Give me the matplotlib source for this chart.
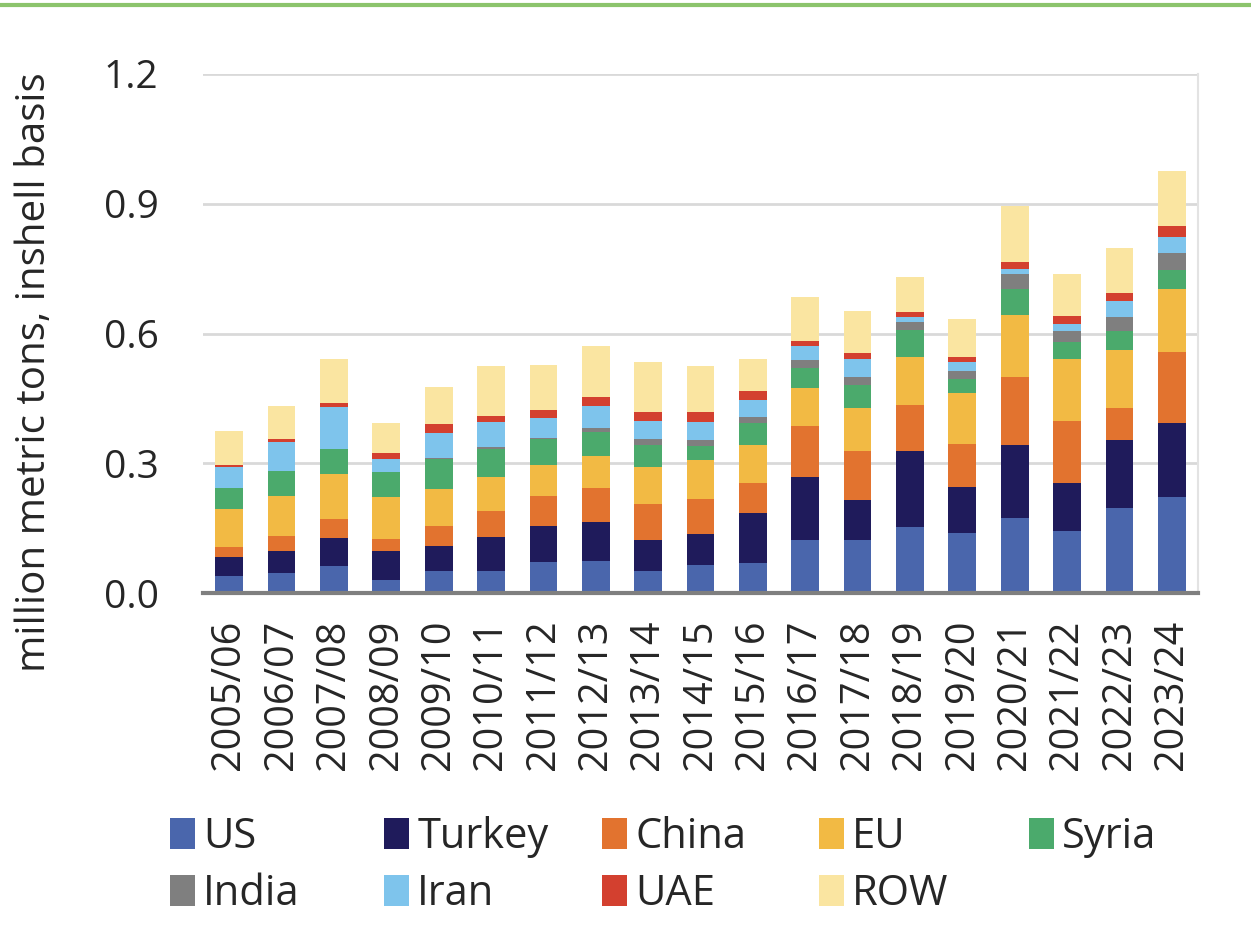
import matplotlib
matplotlib.use("Agg")
import matplotlib.pyplot as plt
from matplotlib.lines import Line2D
import numpy as np

plt.rcParams['font.family'] = ['Open Sans', 'DejaVu Sans']

years = ['2005/06', '2006/07', '2007/08', '2008/09', '2009/10', '2010/11', '2011/12',
         '2012/13', '2013/14', '2014/15', '2015/16', '2016/17', '2017/18', '2018/19',
         '2019/20', '2020/21', '2021/22', '2022/23', '2023/24']

# million metric tons, inshell basis
us     = [0.040, 0.047, 0.063, 0.029, 0.050, 0.052, 0.072, 0.073, 0.052, 0.064, 0.070, 0.123, 0.123, 0.152, 0.139, 0.173, 0.144, 0.197, 0.221]
turkey = [0.043, 0.050, 0.064, 0.068, 0.059, 0.077, 0.083, 0.091, 0.071, 0.073, 0.115, 0.146, 0.092, 0.177, 0.105, 0.170, 0.110, 0.156, 0.172]
china  = [0.023, 0.034, 0.044, 0.027, 0.046, 0.060, 0.070, 0.079, 0.083, 0.080, 0.070, 0.116, 0.113, 0.106, 0.101, 0.157, 0.144, 0.074, 0.164]
eu     = [0.088, 0.094, 0.103, 0.098, 0.085, 0.079, 0.071, 0.074, 0.086, 0.091, 0.087, 0.090, 0.100, 0.110, 0.118, 0.142, 0.142, 0.135, 0.145]
syria  = [0.049, 0.057, 0.059, 0.057, 0.070, 0.064, 0.060, 0.056, 0.050, 0.031, 0.052, 0.046, 0.053, 0.062, 0.031, 0.060, 0.040, 0.043, 0.045]
india  = [0.000, 0.000, 0.000, 0.000, 0.002, 0.006, 0.002, 0.009, 0.015, 0.014, 0.013, 0.017, 0.018, 0.019, 0.020, 0.036, 0.026, 0.034, 0.040]
iran   = [0.048, 0.068, 0.098, 0.030, 0.057, 0.057, 0.047, 0.051, 0.040, 0.043, 0.040, 0.033, 0.041, 0.011, 0.020, 0.012, 0.016, 0.037, 0.036]
uae    = [0.006, 0.006, 0.009, 0.014, 0.022, 0.015, 0.019, 0.021, 0.022, 0.022, 0.020, 0.012, 0.014, 0.012, 0.012, 0.016, 0.018, 0.017, 0.025]
row    = [0.077, 0.077, 0.102, 0.071, 0.085, 0.116, 0.103, 0.118, 0.114, 0.107, 0.075, 0.102, 0.097, 0.081, 0.087, 0.128, 0.098, 0.104, 0.127]

names = ['US', 'Turkey', 'China', 'EU', 'Syria', 'India', 'Iran', 'UAE', 'ROW']
series = [us, turkey, china, eu, syria, india, iran, uae, row]
colors = ['#4A66AC', '#1F1B5B', '#E2732F', '#F2BA44', '#4BAA6C', '#7F7F7F', '#7EC4EC', '#D3402F', '#FAE5A1']

fig = plt.figure(figsize=(12.51, 9.42), dpi=100)
ax = fig.add_axes([203/1251, 1-593/942, 995/1251, 519/942])

x = np.arange(len(years))
bottom = np.zeros(len(years))
handles = []
for name, vals, c in zip(names, series, colors):
    b = ax.bar(x, vals, 0.53, bottom=bottom, color=c, label=name, linewidth=0)
    handles.append(b)
    bottom += np.array(vals)

ax.set_xlim(-0.5, len(years) - 0.5)
ax.set_ylim(0, 1.2)
ax.set_yticks([0, 0.3, 0.6, 0.9, 1.2])
ax.set_yticklabels(['0.0', '0.3', '0.6', '0.9', '1.2'])
ax.set_xticks(x)
ax.set_xticklabels(years, rotation=90)
ax.tick_params(axis='y', length=0, pad=32, labelsize=28)
ax.tick_params(axis='x', length=0, pad=19, labelsize=28.5)
for lbl in ax.get_yticklabels() + ax.get_xticklabels():
    lbl.set_color('#262626')

ax.grid(axis='y', color='#D9D9D9', linewidth=2)
ax.set_axisbelow(True)
for s in ['top', 'left']:
    ax.spines[s].set_visible(False)
ax.spines['right'].set_color('#E3E3E3')
ax.spines['right'].set_linewidth(1.5)
ax.spines['bottom'].set_color('#7F7F7F')
ax.spines['bottom'].set_linewidth(3)

fig.text(35/1251, 1-372/942, 'million metric tons, inshell basis', rotation=90,
         ha='center', va='center', fontsize=29, color='#262626')

# green rule at top
fig.add_artist(Line2D([0, 1], [1-5/942, 1-5/942], color='#8CC46C', linewidth=3))

# legend laid out in fixed-width columns
col_x = [170, 384, 602, 819, 1029]
cols = [[0, 5], [1, 6], [2, 7], [3, 8], [4]]
for cx, idx in zip(col_x, cols):
    leg = fig.legend([handles[i] for i in idx], [names[i] for i in idx],
                     loc='upper left', bbox_to_anchor=(cx/1251, 1-816/942),
                     frameon=False, fontsize=30, handlelength=0.6, handleheight=0.75,
                     handletextpad=0.2, labelspacing=0.36, borderaxespad=0,
                     borderpad=0)
    for t in leg.get_texts():
        t.set_color('#262626')

fig.savefig('out.png', dpi=100)
